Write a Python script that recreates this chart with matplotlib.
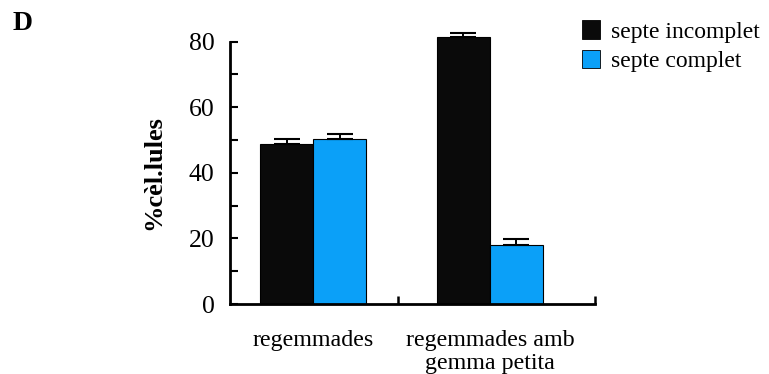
import matplotlib.pyplot as plt
from matplotlib.patches import Patch

plt.rcParams['font.family'] = ['Liberation Serif', 'DejaVu Serif']

# data
groups = ['regemmades', 'regemmades amb\ngemma petita']
series = ['septe incomplet', 'septe complet']
incomplet = [48.7, 81.3]
complet = [50.4, 18.0]
err_incomplet = [1.6, 1.5]
err_complet = [1.6, 1.8]
colors = ['#0a0a0a', '#0ba0f8']

fig = plt.figure(figsize=(7.69, 3.74), dpi=100)
ax = fig.add_axes([0.299, 0.187, 0.475, 0.7015])

pos = [1, 2]
w = 0.3
ax.bar([p - w / 2 for p in pos], incomplet, width=w, color=colors[0],
       edgecolor='black', linewidth=0.8, clip_on=False, zorder=2)
ax.bar([p + w / 2 for p in pos], complet, width=w, color=colors[1],
       edgecolor='black', linewidth=0.8, clip_on=False, zorder=2)
# only upper error bars
ax.errorbar([p - w / 2 for p in pos], incomplet, yerr=[[0, 0], err_incomplet],
            fmt='none', ecolor='black', elinewidth=1.4, capsize=9.7, capthick=1.5,
            clip_on=False, zorder=3)
ax.errorbar([p + w / 2 for p in pos], complet, yerr=[[0, 0], err_complet],
            fmt='none', ecolor='black', elinewidth=1.4, capsize=9.7, capthick=1.5,
            clip_on=False, zorder=3)

ax.set_xlim(0.53, 2.595)
ax.set_ylim(0, 80)
ax.set_yticks([0, 20, 40, 60, 80])
ax.set_yticks([10, 30, 50, 70], minor=True)
ax.tick_params(axis='y', which='both', direction='in', length=6, width=1.5,
               labelsize=18.5, pad=11)
ax.set_xticks([1.48, 2.595])
ax.set_xticklabels(['', ''])
ax.tick_params(axis='x', direction='in', length=6, width=1.8)

for s in ['top', 'right']:
    ax.spines[s].set_visible(False)
ax.spines['left'].set_linewidth(2)
ax.spines['bottom'].set_linewidth(2)

for p, g in zip(pos, groups):
    ax.text(p, -0.1, g, transform=ax.get_xaxis_transform(), ha='center',
            va='top', fontsize=17.3, linespacing=1.08)

ax.set_ylabel('%cèl.lules', fontsize=19, fontweight='bold', labelpad=17)

fig.text(0.016, 0.92, 'D', fontsize=20, fontweight='bold', va='baseline')

handles = [Patch(facecolor=colors[0], edgecolor='black', linewidth=0.6),
           Patch(facecolor=colors[1], edgecolor='black', linewidth=0.6)]
fig.legend(handles, series, loc='upper left', bbox_to_anchor=(0.744, 0.972),
           frameon=False, fontsize=17, handlelength=0.8, handleheight=0.85,
           handletextpad=0.45, labelspacing=0.3, borderaxespad=0)

fig.savefig('out.png', dpi=100)
